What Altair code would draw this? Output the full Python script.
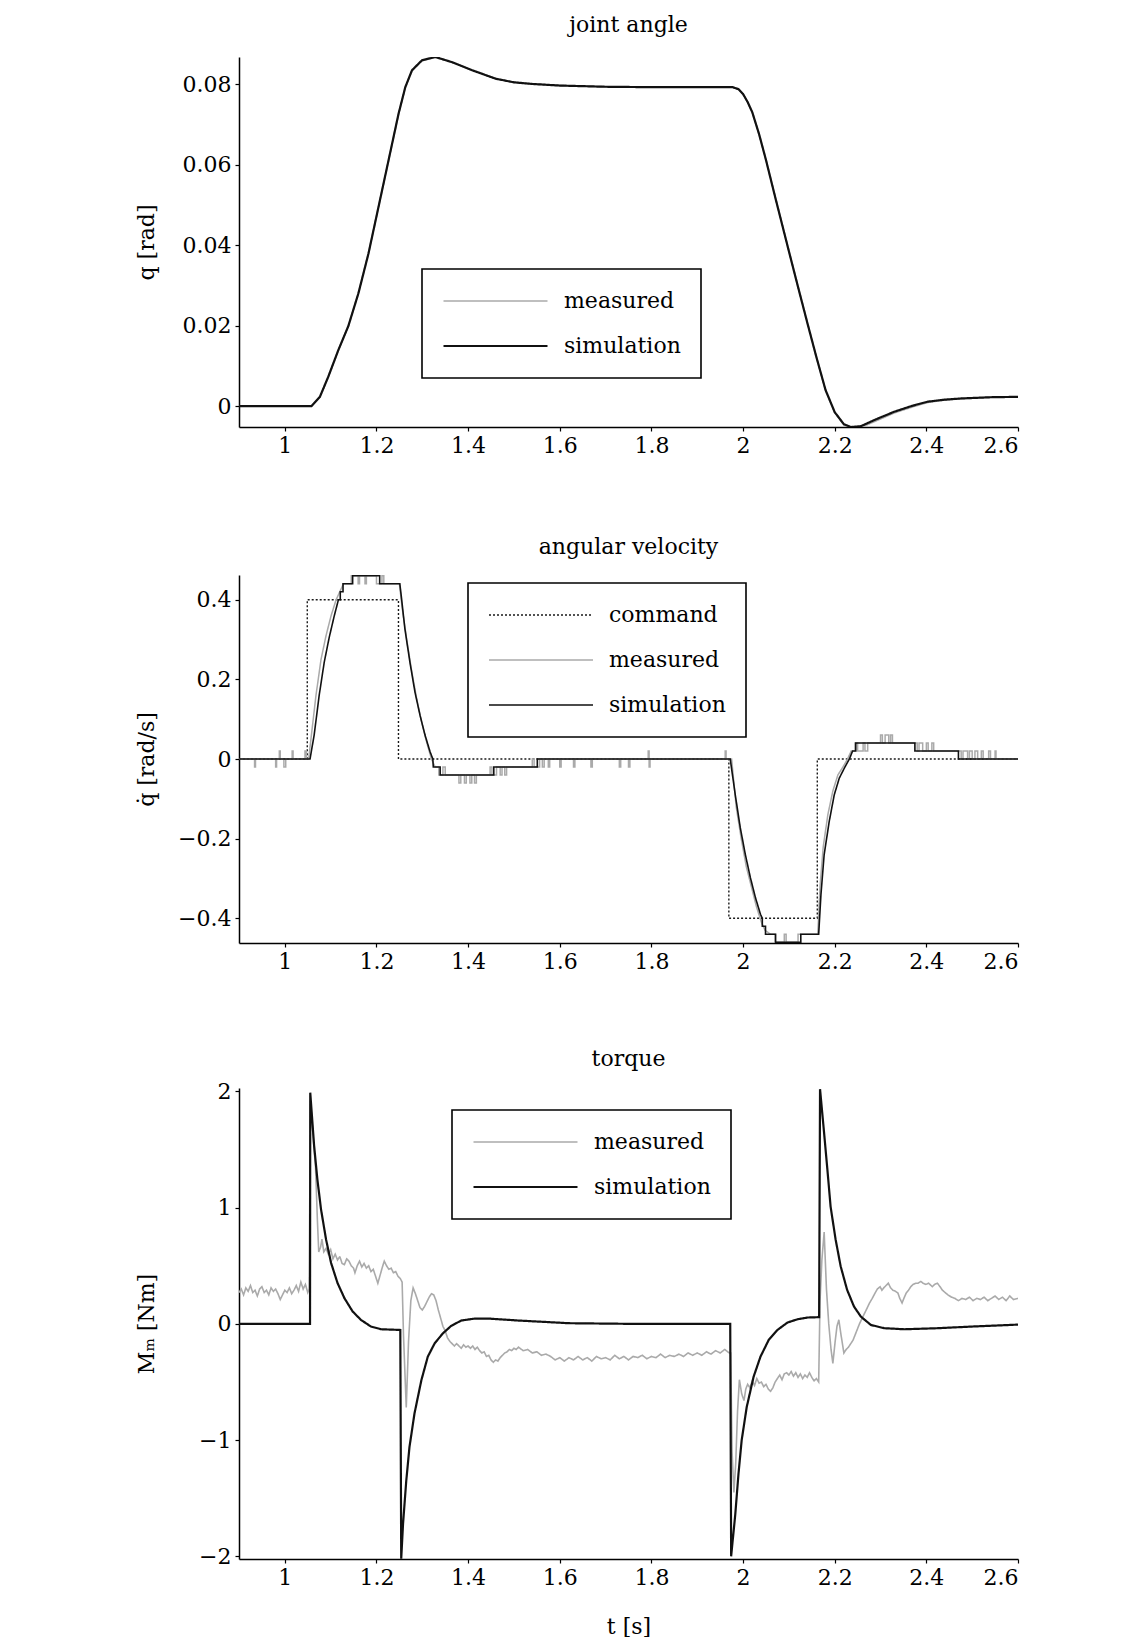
import altair as alt
import pandas as pd

FONT = "DejaVu Serif"
X_DOMAIN = [0.9, 2.6]
X_TICKS = [1, 1.2, 1.4, 1.6, 1.8, 2, 2.2, 2.4, 2.6]
SERIES = ["command", "measured", "simulation"]

# ---------------- joint angle ----------------
Q_T = [0.90, 1.058, 1.0765, 1.0948, 1.1167, 1.1386, 1.1605, 1.1825, 1.2044, 1.2263,
       1.2482, 1.2629, 1.2775, 1.2994, 1.3287, 1.3652, 1.409, 1.4602, 1.50, 1.54,
       1.60, 1.70, 1.80, 1.90, 1.977, 1.99, 2.00, 2.01, 2.02, 2.035, 2.05, 2.07,
       2.10, 2.12, 2.14, 2.16, 2.18, 2.20, 2.22, 2.235, 2.257, 2.29, 2.33, 2.37,
       2.403, 2.44, 2.476, 2.54, 2.60]
Q_SIM = [0, 0, 0.0023, 0.0073, 0.0139, 0.0199, 0.028, 0.0379, 0.0495, 0.0611,
         0.0727, 0.0793, 0.0835, 0.086, 0.0868, 0.0855, 0.0835, 0.0814, 0.0805, 0.0801,
         0.0797, 0.0794, 0.0793, 0.0793, 0.0793, 0.0788, 0.0776, 0.0756, 0.0731, 0.0676, 0.0612, 0.052,
         0.0385, 0.0296, 0.0208, 0.0122, 0.0040, -0.0015, -0.0045, -0.0052, -0.0050, -0.0033, -0.0014, 0.0001,
         0.0011, 0.0016, 0.0019, 0.0022, 0.0023]
Q_MEAS = [0, 0, 0.0022, 0.0072, 0.0138, 0.0199, 0.0281, 0.0380, 0.0495, 0.0610,
          0.0726, 0.0792, 0.0834, 0.0859, 0.0867, 0.0855, 0.0835, 0.0814, 0.0805, 0.0801,
          0.0797, 0.0794, 0.0793, 0.0793, 0.0793, 0.0788, 0.0776, 0.0756, 0.0731, 0.0676, 0.0612, 0.0521,
          0.0386, 0.0297, 0.0209, 0.0122, 0.0039, -0.0016, -0.0047, -0.0054, -0.0053, -0.0037, -0.0017, -0.0002,
          0.0009, 0.0015, 0.0018, 0.0022, 0.0023]

# ---------------- angular velocity ----------------
CMD_T = [0.90, 1.049, 1.049, 1.248, 1.248, 1.969, 1.969, 2.162, 2.162, 2.60]
CMD_V = [0, 0, 0.4, 0.4, 0, 0, -0.4, -0.4, 0, 0]

V_SIM_PTS = [
    (0.90, 0), (1.055, 0), (1.064, 0.06), (1.075, 0.16), (1.086, 0.243), (1.097, 0.306),
    (1.108, 0.36), (1.117, 0.40), (1.121, 0.40), (1.121, 0.42), (1.127, 0.42), (1.127, 0.44),
    (1.148, 0.44), (1.148, 0.46), (1.207, 0.46), (1.207, 0.44), (1.251, 0.44), (1.255, 0.40),
    (1.262, 0.327), (1.273, 0.243), (1.284, 0.168), (1.295, 0.11), (1.306, 0.06), (1.317, 0.018),
    (1.323, 0.0), (1.324, -0.02), (1.339, -0.02), (1.339, -0.04), (1.456, -0.04), (1.456, -0.02),
    (1.551, -0.02), (1.551, 0.0), (1.972, 0.0), (1.983, -0.09), (1.994, -0.173), (2.005, -0.24),
    (2.016, -0.298), (2.027, -0.348), (2.038, -0.39), (2.042, -0.40), (2.042, -0.42), (2.049, -0.42),
    (2.049, -0.44), (2.071, -0.44), (2.071, -0.46), (2.126, -0.46), (2.126, -0.44), (2.165, -0.44),
    (2.170, -0.34), (2.177, -0.24), (2.188, -0.157), (2.199, -0.09), (2.210, -0.048), (2.221, -0.023),
    (2.232, 0.0), (2.239, 0.02), (2.246, 0.02), (2.246, 0.04), (2.375, 0.04), (2.375, 0.02),
    (2.470, 0.02), (2.470, 0.0), (2.60, 0.0),
]

V_MEAS_PTS = [
    (0.90, 0), (0.934, 0), (0.934, -0.02), (0.936, -0.02), (0.936, 0), (0.980, 0), (0.980, -0.02),
    (0.982, -0.02), (0.982, 0), (0.988, 0), (0.988, 0.02), (0.990, 0.02), (0.990, 0), (0.998, 0),
    (0.998, -0.02), (1.002, -0.02), (1.002, 0), (1.016, 0), (1.016, 0.02), (1.018, 0.02), (1.018, 0),
    (1.044, 0), (1.044, 0.02), (1.047, 0.02), (1.047, 0), (1.052, 0),
    (1.058, 0.06), (1.068, 0.16), (1.079, 0.25), (1.090, 0.31), (1.101, 0.36), (1.112, 0.40),
    (1.120, 0.42), (1.128, 0.44), (1.145, 0.44), (1.145, 0.46), (1.160, 0.46), (1.160, 0.44),
    (1.163, 0.44), (1.163, 0.46), (1.175, 0.46), (1.175, 0.44), (1.178, 0.44), (1.178, 0.46),
    (1.200, 0.46), (1.200, 0.44), (1.212, 0.44), (1.212, 0.46), (1.216, 0.46), (1.216, 0.44),
    (1.250, 0.44),
    (1.256, 0.38), (1.266, 0.30), (1.277, 0.22), (1.288, 0.15), (1.299, 0.09), (1.310, 0.04),
    (1.320, 0.0), (1.328, -0.02), (1.336, -0.02), (1.336, -0.04), (1.345, -0.04), (1.345, -0.02),
    (1.350, -0.02), (1.350, -0.04), (1.380, -0.04), (1.380, -0.06), (1.384, -0.06), (1.384, -0.04),
    (1.392, -0.04), (1.392, -0.06), (1.396, -0.06), (1.396, -0.04), (1.404, -0.04), (1.404, -0.06),
    (1.408, -0.06), (1.408, -0.04), (1.414, -0.04), (1.414, -0.06), (1.418, -0.06), (1.418, -0.04),
    (1.448, -0.04), (1.448, -0.02), (1.452, -0.02), (1.452, -0.04), (1.462, -0.04), (1.462, -0.02),
    (1.470, -0.02), (1.470, -0.04), (1.474, -0.04), (1.474, -0.02), (1.480, -0.02), (1.480, -0.04),
    (1.484, -0.04), (1.484, -0.02), (1.540, -0.02), (1.540, 0.0), (1.544, 0.0), (1.544, -0.02),
    (1.556, -0.02), (1.556, 0), (1.562, 0), (1.562, -0.02), (1.566, -0.02), (1.566, 0), (1.575, 0),
    (1.575, -0.02), (1.578, -0.02), (1.578, 0), (1.600, 0), (1.600, -0.02), (1.603, -0.02),
    (1.603, 0), (1.630, 0), (1.630, -0.02), (1.633, -0.02), (1.633, 0), (1.668, 0), (1.668, -0.02),
    (1.671, -0.02), (1.671, 0), (1.730, 0), (1.730, -0.02), (1.733, -0.02), (1.733, 0), (1.750, 0),
    (1.750, -0.02), (1.753, -0.02), (1.753, 0), (1.793, 0), (1.793, 0.02), (1.795, 0.02),
    (1.795, -0.02), (1.797, -0.02), (1.797, 0), (1.961, 0), (1.961, 0.02), (1.963, 0.02),
    (1.963, 0), (1.975, 0),
    (1.985, -0.12), (1.996, -0.20), (2.007, -0.27), (2.018, -0.32), (2.029, -0.37), (2.040, -0.41),
    (2.048, -0.43), (2.060, -0.44), (2.070, -0.44), (2.070, -0.46), (2.090, -0.46), (2.090, -0.44),
    (2.094, -0.44), (2.094, -0.46), (2.120, -0.46), (2.120, -0.44), (2.163, -0.44),
    (2.168, -0.32), (2.175, -0.22), (2.185, -0.14), (2.196, -0.08), (2.207, -0.04), (2.218, -0.02),
    (2.228, 0.0), (2.236, 0.02), (2.244, 0.02), (2.244, 0.04), (2.250, 0.04), (2.250, 0.02),
    (2.262, 0.02), (2.262, 0.04), (2.266, 0.04), (2.266, 0.02), (2.272, 0.02), (2.272, 0.04),
    (2.300, 0.04), (2.300, 0.06), (2.304, 0.06), (2.304, 0.04), (2.310, 0.04), (2.310, 0.06),
    (2.318, 0.06), (2.318, 0.04), (2.322, 0.04), (2.322, 0.06), (2.326, 0.06), (2.326, 0.04),
    (2.380, 0.04), (2.380, 0.02), (2.384, 0.02), (2.384, 0.04), (2.392, 0.04), (2.392, 0.02),
    (2.400, 0.02), (2.400, 0.04), (2.404, 0.04), (2.404, 0.02), (2.412, 0.02), (2.412, 0.04),
    (2.416, 0.04), (2.416, 0.02), (2.476, 0.02), (2.476, 0), (2.480, 0), (2.480, 0.02),
    (2.490, 0.02), (2.490, 0), (2.494, 0), (2.494, 0.02), (2.500, 0.02), (2.500, 0), (2.506, 0),
    (2.506, 0.02), (2.512, 0.02), (2.512, 0), (2.520, 0), (2.520, 0.02), (2.524, 0.02), (2.524, 0),
    (2.536, 0), (2.536, 0.02), (2.540, 0.02), (2.540, 0), (2.550, 0), (2.550, 0.02), (2.552, 0.02),
    (2.552, 0), (2.60, 0),
]

# ---------------- torque ----------------
M_SIM_PTS = [
    (0.90, 0), (1.055, 0), (1.0555, 1.99), (1.064, 1.53), (1.071, 1.245), (1.079, 0.986),
    (1.090, 0.726), (1.101, 0.524), (1.115, 0.352), (1.130, 0.222), (1.148, 0.107), (1.166, 0.035),
    (1.188, -0.023), (1.210, -0.046), (1.252, -0.052), (1.254, -2.02), (1.258, -1.72),
    (1.265, -1.35), (1.272, -1.06), (1.283, -0.77), (1.298, -0.484), (1.312, -0.282),
    (1.327, -0.167), (1.345, -0.081), (1.363, -0.017), (1.385, 0.029), (1.415, 0.046),
    (1.444, 0.046), (1.510, 0.029), (1.620, 0.006), (1.766, 0.0), (1.972, 0.0), (1.974, -2.0),
    (1.983, -1.64), (1.990, -1.29), (1.997, -1.0), (2.008, -0.715), (2.023, -0.455),
    (2.038, -0.282), (2.056, -0.138), (2.075, -0.052), (2.097, 0.012), (2.119, 0.04),
    (2.141, 0.055), (2.166, 0.058), (2.168, 2.02), (2.176, 1.68), (2.184, 1.33), (2.191, 1.01),
    (2.202, 0.726), (2.213, 0.496), (2.227, 0.294), (2.242, 0.15), (2.257, 0.063),
    (2.279, -0.009), (2.308, -0.037), (2.352, -0.046), (2.425, -0.037), (2.498, -0.023),
    (2.600, -0.006),
]

M_MEAS_PTS = [
    (0.900, 0.27), (0.905, 0.30), (0.910, 0.25), (0.915, 0.31), (0.920, 0.28), (0.925, 0.33),
    (0.930, 0.27), (0.935, 0.29), (0.940, 0.24), (0.945, 0.30), (0.950, 0.32), (0.955, 0.27),
    (0.960, 0.29), (0.965, 0.25), (0.970, 0.31), (0.975, 0.28), (0.980, 0.30), (0.985, 0.26),
    (0.990, 0.21), (0.995, 0.25), (1.000, 0.29), (1.005, 0.27), (1.010, 0.31), (1.015, 0.26),
    (1.020, 0.29), (1.025, 0.33), (1.030, 0.28), (1.035, 0.36), (1.040, 0.30), (1.045, 0.34),
    (1.050, 0.27), (1.053, 0.30),
    (1.056, 1.92), (1.062, 1.60), (1.067, 1.35), (1.071, 0.90), (1.074, 0.62), (1.078, 0.66),
    (1.081, 0.73), (1.085, 0.62), (1.090, 0.65), (1.095, 0.60), (1.100, 0.64), (1.105, 0.56),
    (1.110, 0.60), (1.115, 0.55), (1.120, 0.58), (1.125, 0.52), (1.130, 0.51), (1.135, 0.56),
    (1.140, 0.54), (1.145, 0.50), (1.150, 0.48), (1.153, 0.44), (1.158, 0.50), (1.163, 0.54),
    (1.168, 0.49), (1.173, 0.52), (1.178, 0.48), (1.183, 0.50), (1.188, 0.45), (1.193, 0.47),
    (1.198, 0.41), (1.203, 0.35), (1.208, 0.42), (1.213, 0.49), (1.217, 0.54), (1.222, 0.50),
    (1.227, 0.47), (1.232, 0.48), (1.237, 0.44), (1.242, 0.45), (1.247, 0.41), (1.252, 0.39),
    (1.256, 0.36),
    (1.259, -0.10), (1.265, -0.72), (1.270, -0.15), (1.275, 0.20), (1.280, 0.31), (1.285, 0.26),
    (1.290, 0.20), (1.295, 0.14), (1.300, 0.12), (1.305, 0.15), (1.310, 0.19), (1.315, 0.23),
    (1.320, 0.26), (1.325, 0.25), (1.330, 0.20), (1.335, 0.12), (1.340, 0.05), (1.345, -0.02),
    (1.350, -0.06), (1.355, -0.12), (1.360, -0.15), (1.365, -0.17), (1.370, -0.19), (1.375, -0.17),
    (1.380, -0.19), (1.385, -0.21), (1.390, -0.18), (1.395, -0.20), (1.400, -0.19), (1.405, -0.21),
    (1.410, -0.19), (1.415, -0.22), (1.420, -0.20), (1.425, -0.23), (1.430, -0.25), (1.435, -0.24),
    (1.440, -0.28), (1.445, -0.27), (1.450, -0.31), (1.455, -0.33), (1.460, -0.31), (1.465, -0.32),
    (1.470, -0.29), (1.475, -0.27), (1.480, -0.25), (1.485, -0.24), (1.490, -0.22), (1.495, -0.23),
    (1.500, -0.21), (1.505, -0.22), (1.510, -0.20), (1.520, -0.23), (1.530, -0.22), (1.540, -0.25),
    (1.550, -0.24), (1.560, -0.27), (1.570, -0.26), (1.580, -0.28), (1.590, -0.31), (1.600, -0.29),
    (1.610, -0.32), (1.620, -0.29), (1.630, -0.31), (1.640, -0.28), (1.650, -0.31), (1.660, -0.29),
    (1.670, -0.32), (1.680, -0.28), (1.690, -0.30), (1.700, -0.29), (1.710, -0.31), (1.720, -0.27),
    (1.730, -0.30), (1.740, -0.28), (1.750, -0.31), (1.760, -0.28), (1.770, -0.29), (1.780, -0.27),
    (1.790, -0.30), (1.800, -0.28), (1.810, -0.29), (1.820, -0.26), (1.830, -0.29), (1.840, -0.27),
    (1.850, -0.28), (1.860, -0.26), (1.870, -0.28), (1.880, -0.25), (1.890, -0.27), (1.900, -0.25),
    (1.910, -0.27), (1.920, -0.24), (1.930, -0.26), (1.940, -0.23), (1.950, -0.25), (1.960, -0.22),
    (1.970, -0.25), (1.973, -0.25),
    (1.976, -1.10), (1.980, -1.45), (1.984, -1.20), (1.988, -0.75), (1.992, -0.48), (1.997, -0.60),
    (2.002, -0.66), (2.006, -0.56), (2.010, -0.52), (2.015, -0.55), (2.020, -0.49), (2.025, -0.53),
    (2.030, -0.47), (2.035, -0.51), (2.040, -0.50), (2.045, -0.54), (2.050, -0.52), (2.055, -0.56),
    (2.060, -0.58), (2.065, -0.55), (2.070, -0.50), (2.075, -0.47), (2.080, -0.44), (2.085, -0.48),
    (2.090, -0.43), (2.095, -0.42), (2.100, -0.44), (2.105, -0.41), (2.110, -0.45), (2.115, -0.42),
    (2.120, -0.46), (2.125, -0.43), (2.130, -0.47), (2.135, -0.44), (2.140, -0.46), (2.145, -0.42),
    (2.150, -0.46), (2.155, -0.49), (2.160, -0.47), (2.165, -0.50),
    (2.168, 0.20), (2.172, 0.55), (2.177, 0.79), (2.182, 0.30), (2.187, 0.00), (2.192, -0.22),
    (2.196, -0.34), (2.201, -0.15), (2.205, -0.02), (2.209, 0.035), (2.214, -0.10), (2.220, -0.25),
    (2.225, -0.22), (2.230, -0.20), (2.235, -0.17), (2.240, -0.14), (2.247, -0.07), (2.254, 0.00),
    (2.260, 0.05), (2.265, 0.09), (2.270, 0.13), (2.276, 0.18), (2.282, 0.22), (2.288, 0.265),
    (2.293, 0.30), (2.299, 0.32), (2.303, 0.29), (2.307, 0.31), (2.312, 0.33), (2.317, 0.35),
    (2.322, 0.31), (2.327, 0.29), (2.333, 0.28), (2.338, 0.265), (2.342, 0.22), (2.347, 0.18),
    (2.351, 0.22), (2.356, 0.265), (2.361, 0.29), (2.366, 0.32), (2.371, 0.34), (2.377, 0.35),
    (2.382, 0.35), (2.388, 0.366), (2.393, 0.35), (2.399, 0.34), (2.405, 0.35), (2.413, 0.32),
    (2.418, 0.34), (2.424, 0.35), (2.430, 0.32), (2.435, 0.29), (2.441, 0.27), (2.447, 0.25),
    (2.455, 0.23), (2.462, 0.22), (2.470, 0.20), (2.478, 0.22), (2.486, 0.21), (2.494, 0.23),
    (2.502, 0.20), (2.510, 0.22), (2.518, 0.21), (2.526, 0.23), (2.534, 0.20), (2.542, 0.22),
    (2.550, 0.24), (2.558, 0.21), (2.566, 0.23), (2.574, 0.20), (2.582, 0.24), (2.590, 0.21),
    (2.600, 0.22),
]


def frame(series_list):
    rows = []
    for name, pts in series_list:
        for i, (t, v) in enumerate(pts):
            rows.append({"t": t, "v": v, "series": name, "i": i})
    return pd.DataFrame(rows)


df_q = frame([("measured", list(zip(Q_T, Q_MEAS))), ("simulation", list(zip(Q_T, Q_SIM)))])
df_v = frame([("command", list(zip(CMD_T, CMD_V))), ("measured", V_MEAS_PTS),
              ("simulation", V_SIM_PTS)])
df_m = frame([("measured", M_MEAS_PTS), ("simulation", M_SIM_PTS)])

COLORS = {"command": "#1a1a1a", "measured": "#aaaaaa", "simulation": "#111111"}
DASHES = {"command": [2, 2], "measured": [1, 0], "simulation": [1, 0]}
WIDTHS = {"command": 1.4, "measured": 1.6, "simulation": 2.2}

W = 779


def panel(df, title, title_offset, ytitle, ydomain, yticks, height, lx, ly, series, xtitle):
    leg = alt.Legend(title=None, orient="none", legendX=lx, legendY=ly,
                     strokeColor="black", fillColor="white", padding=20, rowPadding=21,
                     symbolType="stroke", symbolSize=10816, labelFont=FONT,
                     labelFontSize=22, labelOffset=15, clipHeight=24, labelColor="black")
    xaxis = alt.Axis(values=X_TICKS, format="~f", title=xtitle if xtitle else None,
                     titlePadding=28)
    yaxis = alt.Axis(values=yticks, format="~f", title=ytitle, titleX=-93,
                     titleY=height / 2, titleAngle=270, titleAlign="center",
                     titleBaseline="middle")
    return alt.Chart(df).mark_line(clip=True).encode(
        x=alt.X("t:Q", scale=alt.Scale(domain=X_DOMAIN, nice=False, zero=False), axis=xaxis),
        y=alt.Y("v:Q", scale=alt.Scale(domain=ydomain, nice=False, zero=False), axis=yaxis),
        color=alt.Color("series:N", scale=alt.Scale(domain=series,
                        range=[COLORS[s] for s in series]), legend=leg),
        strokeDash=alt.StrokeDash("series:N", scale=alt.Scale(domain=series,
                                  range=[DASHES[s] for s in series]), legend=leg),
        strokeWidth=alt.StrokeWidth("series:N", scale=alt.Scale(domain=series,
                                    range=[WIDTHS[s] for s in series]), legend=leg),
        order=alt.Order("i:Q"),
    ).properties(width=W, height=height,
                 title=alt.Title(title, frame="group", offset=title_offset))


p1 = panel(df_q, "joint angle", 20, "q [rad]", [-0.0052, 0.0868], [0, 0.02, 0.04, 0.06, 0.08],
           370, 183, 212, ["measured", "simulation"], None)
p2 = panel(df_v, "angular velocity", 16, "q\u0307 [rad/s]", [-0.462, 0.462],
           [-0.4, -0.2, 0, 0.2, 0.4], 368, 229, 8, SERIES, None)
p3 = panel(df_m, "torque", 9, "M\u2098 [Nm]", [-2.023, 2.03], [-2, -1, 0, 1, 2],
           471, 213, 22, ["measured", "simulation"], "t [s]")

RES = dict(color="independent", strokeDash="independent", strokeWidth="independent")

top_two = alt.vconcat(p1, p2, spacing=80).resolve_scale(**RES).resolve_legend(**RES)

chart = alt.vconcat(top_two, p3, spacing=76).resolve_scale(**RES).resolve_legend(**RES).properties(
    padding={"left": 127, "top": 6, "right": 5, "bottom": 0}
).configure_view(stroke=None).configure_axis(
    labelFont=FONT, labelFontSize=22, labelColor="black", titleFont=FONT, titleFontSize=22,
    titleFontWeight="normal", titleColor="black", domainColor="black", domainWidth=1.5,
    tickColor="black", tickSize=4, tickWidth=1.2, labelPadding=4, grid=False
).configure_title(
    font=FONT, fontSize=22, fontWeight="normal", color="black", anchor="middle"
).configure_legend(strokeWidth=1.6)

chart.save("out.html", embed_options={"renderer": "svg", "actions": False})
